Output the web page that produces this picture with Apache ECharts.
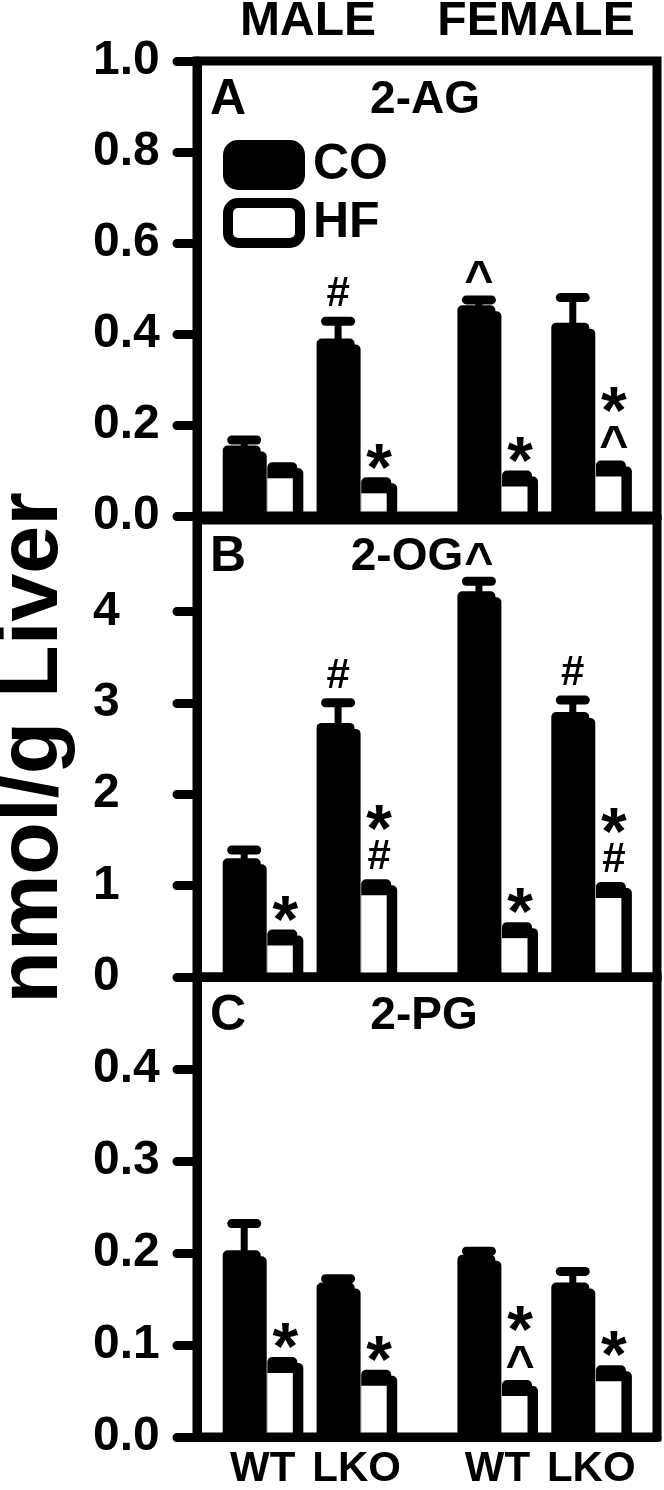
<!DOCTYPE html>
<html><head><meta charset="utf-8">
<script src="https://cdn.jsdelivr.net/npm/echarts@6/dist/echarts.min.js"></script>
<style>html,body{margin:0;padding:0;background:#fff}#c{width:664px;height:1490px}</style>
</head><body><div id="c"></div>
<script>
// ---------- data ----------
const genotypes = ['WT', 'LKO', 'WT', 'LKO'];
const sexes = ['MALE', 'FEMALE'];
const seriesNames = ['CO', 'HF'];
const panelLetters = ['A', 'B', 'C'];
const analytes = ['2-AG', '2-OG', '2-PG'];

// Panel A: 2-AG (nmol/g liver)
const agCO = [0.155, 0.39, 0.463, 0.425];
const agCOerr = [0.012, 0.038, 0.012, 0.055];
const agHF = [0.118, 0.085, 0.100, 0.122];
const agCOmark = ['', '#', '^', ''];
const agHFmark = ['', '*', '*', '*^'];

// Panel B: 2-OG
const ogCO = [1.30, 2.78, 4.22, 2.90];
const ogCOerr = [0.09, 0.22, 0.11, 0.13];
const ogHF = [0.52, 1.07, 0.60, 1.04];
const ogCOmark = ['', '#', '^', '#'];
const ogHFmark = ['*', '*#', '*', '*#'];

// Panel C: 2-PG
const pgCO = [0.203, 0.168, 0.198, 0.168];
const pgCOerr = [0.029, 0.004, 0.004, 0.012];
const pgHF = [0.087, 0.073, 0.062, 0.078];
const pgCOmark = ['', '', '', ''];
const pgHFmark = ['*', '*', '*^', '*'];

// y axis scales
const yMax = [1.0, 5, 0.5];
const yStep = [0.2, 1, 0.1];
const yDecimals = [1, 0, 1];
const yTitle = 'nmol/g Liver';

// ---------- layout ----------
const FONT = '"Liberation Sans", Arial, Helvetica, sans-serif';
const gridBox = [
  {top: 61, height: 455},
  {top: 520, height: 457},
  {top: 977, height: 460}
];
const GL = 197, GR = 7;
// position of genotype pair along x: groups of sexes separated by an extra half step
function pos(i) { return i + (i >= 2 ? 0.5 : 0); }
const tickPos = genotypes.map((g, i) => pos(i));

const GLYPH = {
  '*': {size: 66, dy: 16},
  '#': {size: 42, dy: 0},
  '^': {size: 50, dy: 9}
};
function markTexts(str, cx, topY) {
  const out = [];
  const chars = str.split('').reverse();
  let yc = topY - 22;
  chars.forEach(ch => {
    const g = GLYPH[ch];
    out.push({
      type: 'text', x: cx, y: yc + g.dy, z2: 10,
      style: {text: ch, fontSize: g.size, fontWeight: 'bold', fontFamily: FONT,
              fill: '#000', align: 'center', verticalAlign: 'middle'}
    });
    yc -= 40;
  });
  return out;
}

function renderCO(marks) {
  return function (params, api) {
    const p = api.value(0), v = api.value(1), e = api.value(2);
    const base = api.coord([p, 0]);
    const cx = base[0], y0 = base[1];
    const yt = api.coord([p, v])[1];
    const ye = api.coord([p, v + e])[1];
    const L = cx - 40;
    const bc = L + 21.5;
    const ch = [];
    ch.push({type: 'line', shape: {x1: bc, y1: yt + 6, x2: bc, y2: ye},
             style: {stroke: '#000', lineWidth: 7}});
    ch.push({type: 'line', shape: {x1: bc - 12.5, y1: ye, x2: bc + 12.5, y2: ye},
             style: {stroke: '#000', lineWidth: 9, lineCap: 'round'}});
    ch.push({type: 'rect', shape: {x: L + 6, y: yt + 6, width: 38, height: y0 - yt - 6, r: [5, 5, 0, 0]},
             style: {fill: '#000'}});
    ch.push({type: 'rect', shape: {x: L, y: yt, width: 38, height: y0 - yt, r: [5, 5, 0, 0]},
             style: {fill: '#000'}});
    const topMark = Math.min(yt, ye - 4.5);
    markTexts(marks[params.dataIndex], bc, topMark).forEach(t => ch.push(t));
    return {type: 'group', children: ch};
  };
}
function renderHF(marks) {
  return function (params, api) {
    const p = api.value(0), v = api.value(1);
    const base = api.coord([p, 0]);
    const cx = base[0], y0 = base[1];
    const yt = api.coord([p, v])[1];
    const L = cx + 4.6;
    const ch = [];
    ch.push({type: 'rect', shape: {x: L + 6, y: yt + 6, width: 30, height: y0 - yt - 6, r: [5, 5, 0, 0]},
             style: {fill: '#000'}});
    ch.push({type: 'rect', shape: {x: L, y: yt, width: 30, height: y0 - yt, r: [5, 5, 0, 0]},
             style: {fill: '#000'}});
    ch.push({type: 'rect', shape: {x: L, y: yt + 16, width: 25.5, height: Math.max(0, y0 - 4.5 - yt - 16)},
             style: {fill: '#fff'}});
    markTexts(marks[params.dataIndex], L + 18, yt).forEach(t => ch.push(t));
    return {type: 'group', children: ch};
  };
}

const panels = [
  {co: agCO, err: agCOerr, hf: agHF, coMark: agCOmark, hfMark: agHFmark},
  {co: ogCO, err: ogCOerr, hf: ogHF, coMark: ogCOmark, hfMark: ogHFmark},
  {co: pgCO, err: pgCOerr, hf: pgHF, coMark: pgCOmark, hfMark: pgHFmark}
];

const grids = [], xAxes = [], yAxes = [], series = [];
panels.forEach((pn, k) => {
  grids.push({left: GL, right: GR, top: gridBox[k].top, height: gridBox[k].height,
              show: true, borderColor: '#000', borderWidth: 9, backgroundColor: 'transparent'});
  xAxes.push({
    gridIndex: k, type: 'value', min: -0.7, max: 4.2,
    axisLine: {show: true, onZero: false, lineStyle: {color: '#000', width: 9}},
    axisTick: {show: false}, splitLine: {show: false},
    axisLabel: {
      show: k === 2, customValues: tickPos, margin: 11,
      fontSize: 42, fontWeight: 'bold', color: '#000', fontFamily: FONT,
      formatter: v => { const i = tickPos.indexOf(v); return i >= 0 ? genotypes[i] : ''; }
    }
  });
  yAxes.push({
    gridIndex: k, type: 'value', min: 0, max: yMax[k], interval: yStep[k],
    axisLine: {show: true, onZero: false, lineStyle: {color: '#000', width: 9}},
    axisTick: {show: true, length: 20, lineStyle: {color: '#000', width: 9, cap: 'round'}},
    splitLine: {show: false},
    axisLabel: {
      showMaxLabel: k === 0, align: 'left', margin: 104,
      fontSize: 48, fontWeight: 'bold', color: '#000', fontFamily: FONT,
      formatter: v => v.toFixed(yDecimals[k])
    }
  });
  series.push({
    name: seriesNames[0], type: 'custom', xAxisIndex: k, yAxisIndex: k, clip: false,
    itemStyle: {color: '#000'},
    renderItem: renderCO(pn.coMark),
    data: pn.co.map((v, i) => [pos(i), v, pn.err[i]])
  });
  series.push({
    name: seriesNames[1], type: 'custom', xAxisIndex: k, yAxisIndex: k, clip: false,
    itemStyle: {color: '#fff', borderColor: '#000', borderWidth: 10},
    renderItem: renderHF(pn.hfMark),
    data: pn.hf.map((v, i) => [pos(i), v])
  });
});

const textStyle = (s) => ({fontSize: s, fontWeight: 'bold', fontFamily: FONT, fill: '#000'});
const graphics = [];
// sex headers
[[308, sexes[0]], [536, sexes[1]]].forEach(([x, t]) => graphics.push({
  type: 'text', x: x, y: 22, style: Object.assign(textStyle(48), {text: t, align: 'center', verticalAlign: 'middle'})
}));
// panel letters + analyte names
const panelTextY = [100, 557, 1016];
const analyteX = [425, 407, 424];
panelLetters.forEach((l, k) => {
  graphics.push({type: 'text', x: 210, y: panelTextY[k],
    style: Object.assign(textStyle(50), {text: l, align: 'left', verticalAlign: 'middle'})});
  graphics.push({type: 'text', x: analyteX[k], y: panelTextY[k],
    style: Object.assign(textStyle(46), {text: analytes[k], align: 'center', verticalAlign: 'middle'})});
});
// y title
graphics.push({type: 'text', x: 33, y: 748, rotation: Math.PI / 2,
  style: Object.assign(textStyle(86), {text: yTitle, align: 'center', verticalAlign: 'middle'})});

const chart = echarts.init(document.getElementById('c'), null, {renderer: 'canvas'});
chart.setOption({
  animation: false,
  backgroundColor: '#fff',
  grid: grids, xAxis: xAxes, yAxis: yAxes, series: series,
  legend: {
    data: [
      {name: 'CO', icon: 'roundRect', itemStyle: {color: '#000', borderColor: '#000', borderWidth: 10}},
      {name: 'HF', icon: 'roundRect', itemStyle: {color: '#fff', borderColor: '#000', borderWidth: 10}}
    ],
    orient: 'vertical', left: 223, top: 140, padding: 0, itemWidth: 72, itemHeight: 40, itemGap: 8,
    selectedMode: false,
    textStyle: {fontSize: 50, fontWeight: 'bold', color: '#000', fontFamily: FONT, padding: [0, 0, 0, 8]}
  },
  graphic: graphics
});
</script></body></html>
